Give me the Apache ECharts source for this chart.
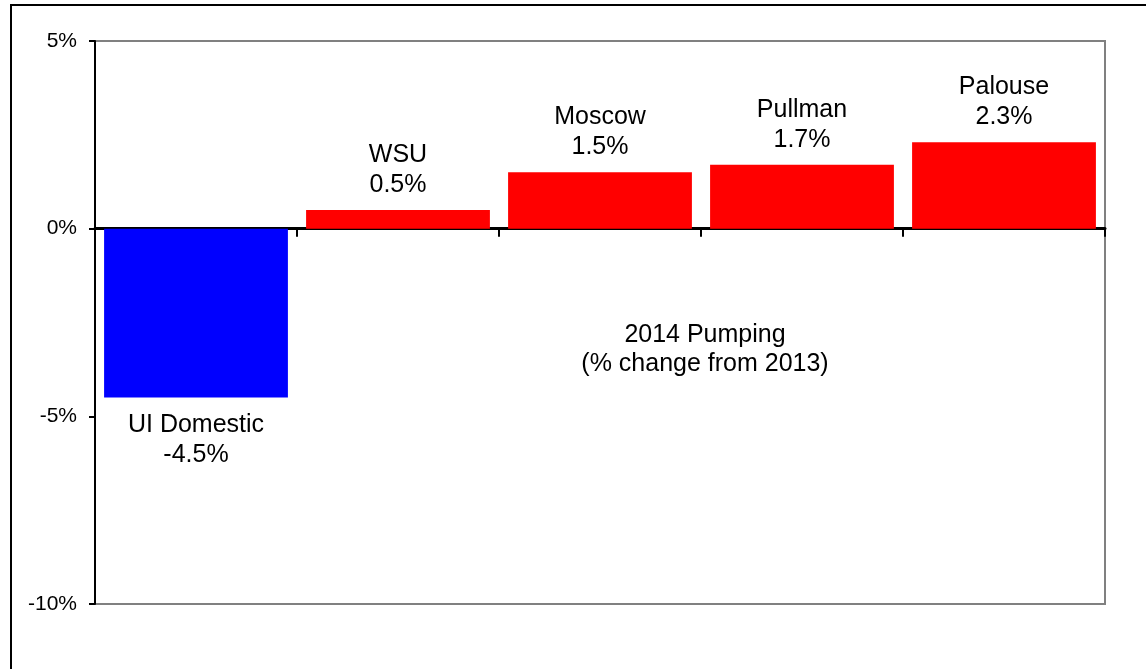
<!DOCTYPE html>
<html><head><meta charset="utf-8">
<script src="https://cdn.jsdelivr.net/npm/echarts@6/dist/echarts.min.js"></script>
<style>html,body{margin:0;padding:0;background:#fff}#c{width:1146px;height:669px}</style>
</head><body><div id="c"></div>
<script>
var categories = ['UI Domestic', 'WSU', 'Moscow', 'Pullman', 'Palouse'];
var values = [-4.5, 0.5, 1.5, 1.7, 2.3];
var colors = ['#0000FF', '#FF0000', '#FF0000', '#FF0000', '#FF0000'];
var yTicks = [-10, -5, 0, 5];
var noteText = '2014 Pumping\n(% change from 2013)';

var chart = echarts.init(document.getElementById('c'), null, {renderer: 'canvas'});
var font = '"Liberation Sans", Arial, sans-serif';
chart.setOption({
  animation: false,
  backgroundColor: '#fff',
  grid: {left: 95, top: 41, right: 41, bottom: 65, show: true, borderColor: '#808080', borderWidth: 2, backgroundColor: 'transparent'},
  xAxis: {
    type: 'category', data: categories,
    axisLine: {show: true, onZero: true, lineStyle: {color: '#000', width: 3}},
    axisTick: {show: true, length: 8, inside: false, lineStyle: {color: '#000', width: 2}},
    axisLabel: {show: false},
    splitLine: {show: false}
  },
  yAxis: {
    type: 'value', min: yTicks[0], max: yTicks[yTicks.length - 1], interval: 5,
    axisLine: {show: true, lineStyle: {color: '#000', width: 2}},
    axisTick: {show: true, length: 6, lineStyle: {color: '#000', width: 2}},
    splitLine: {show: false},
    axisLabel: {formatter: function (v) { return v + '%'; }, fontFamily: font, fontSize: 21, color: '#000', margin: 18}
  },
  series: [{
    type: 'bar',
    barCategoryGap: '9%',
    data: values.map(function (v, i) {
      return {
        value: v,
        itemStyle: {color: colors[i]},
        label: {position: v < 0 ? 'bottom' : 'top', distance: v < 0 ? 13 : 10}
      };
    }),
    label: {
      show: true, fontFamily: font, fontSize: 25, color: '#000', lineHeight: 30, align: 'center',
      formatter: function (p) { return categories[p.dataIndex] + '\n' + p.value.toFixed(1) + '%'; }
    }
  }],
  graphic: [
    {type: 'rect', shape: {x: 11, y: 5, width: 1200, height: 700}, style: {fill: 'none', stroke: '#000', lineWidth: 2}, silent: true, z: 100},
    {type: 'text', x: 705, y: 350, style: {text: noteText, font: '25px ' + font, fill: '#000', textAlign: 'center', textVerticalAlign: 'middle', lineHeight: 29}}
  ]
});
</script></body></html>
